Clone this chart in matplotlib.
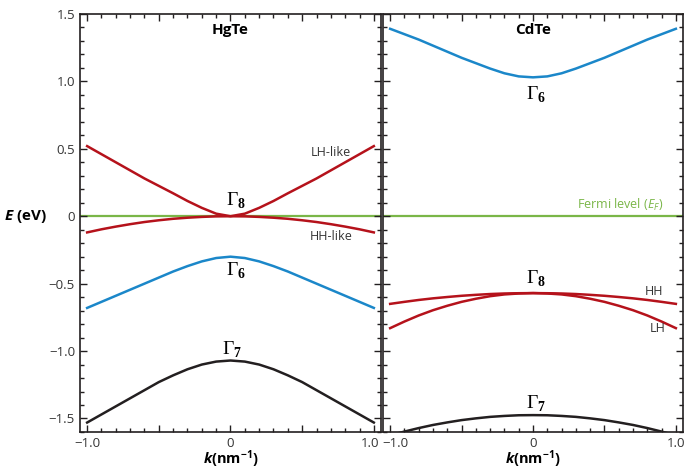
import matplotlib.pyplot as plt
import matplotlib.transforms as mtransforms
from matplotlib.ticker import MultipleLocator

# band energies (eV), k in nm^-1
k = [-1.0, -0.9, -0.8, -0.7, -0.6, -0.5, -0.4, -0.3, -0.2, -0.1, 0.0,
     0.1, 0.2, 0.3, 0.4, 0.5, 0.6, 0.7, 0.8, 0.9, 1.0]

hgte_lh = [0.52, 0.46, 0.40, 0.34, 0.28, 0.225, 0.17, 0.113, 0.062, 0.019, 0.0,
           0.019, 0.062, 0.113, 0.17, 0.225, 0.28, 0.34, 0.40, 0.46, 0.52]
hgte_hh = [-0.12, -0.097, -0.077, -0.059, -0.043, -0.030, -0.019, -0.011, -0.005, -0.001, 0.0,
           -0.001, -0.005, -0.011, -0.019, -0.030, -0.043, -0.059, -0.077, -0.097, -0.12]
hgte_g6 = [-0.68, -0.635, -0.59, -0.545, -0.50, -0.455, -0.41, -0.37, -0.335, -0.31, -0.30,
           -0.31, -0.335, -0.37, -0.41, -0.455, -0.50, -0.545, -0.59, -0.635, -0.68]
hgte_g7 = [-1.53, -1.47, -1.41, -1.35, -1.29, -1.23, -1.18, -1.135, -1.10, -1.078, -1.07,
           -1.078, -1.10, -1.135, -1.18, -1.23, -1.29, -1.35, -1.41, -1.47, -1.53]

cdte_g6 = [1.39, 1.35, 1.31, 1.265, 1.22, 1.175, 1.135, 1.095, 1.06, 1.037, 1.03,
           1.037, 1.06, 1.095, 1.135, 1.175, 1.22, 1.265, 1.31, 1.35, 1.39]
cdte_hh = [-0.65, -0.635, -0.621, -0.609, -0.599, -0.59, -0.583, -0.577, -0.573, -0.571, -0.57,
           -0.571, -0.573, -0.577, -0.583, -0.59, -0.599, -0.609, -0.621, -0.635, -0.65]
cdte_lh = [-0.83, -0.781, -0.736, -0.697, -0.664, -0.635, -0.612, -0.593, -0.58, -0.573, -0.57,
           -0.573, -0.58, -0.593, -0.612, -0.635, -0.664, -0.697, -0.736, -0.781, -0.83]
cdte_g7 = [-1.625, -1.597, -1.571, -1.548, -1.529, -1.512, -1.499, -1.488, -1.481, -1.476, -1.475,
           -1.476, -1.481, -1.488, -1.499, -1.512, -1.529, -1.548, -1.571, -1.597, -1.625]

red = '#b5121b'
blue = '#1b87c9'
black = '#231f20'
green = '#7ab648'

plt.rcParams['font.family'] = ['Open Sans', 'DejaVu Sans']
plt.rcParams['mathtext.fontset'] = 'custom'
plt.rcParams['mathtext.rm'] = 'Liberation Serif'
plt.rcParams['mathtext.bf'] = 'Liberation Serif:bold'
plt.rcParams['mathtext.it'] = 'Open Sans:italic'
plt.rcParams['mathtext.bfit'] = 'Open Sans:italic:bold'
plt.rcParams['mathtext.sf'] = 'Open Sans:bold'

fig = plt.figure(figsize=(6.87, 4.70), dpi=100)
ax1 = fig.add_axes([0.1164, 0.0809, 0.4382, 0.8894])
ax2 = fig.add_axes([0.5575, 0.0809, 0.4367, 0.8894])

for ax in (ax1, ax2):
    ax.set_xlim(-1.05, 1.05)
    ax.set_ylim(-1.6, 1.5)
    ax.xaxis.set_major_locator(MultipleLocator(0.5))
    ax.xaxis.set_minor_locator(MultipleLocator(0.1))
    ax.yaxis.set_major_locator(MultipleLocator(0.5))
    ax.yaxis.set_minor_locator(MultipleLocator(0.1))
    ax.tick_params(which='both', direction='in', top=True, right=True, width=1.0, color='#231f20')
    ax.tick_params(which='major', length=5, labelsize=9.5, labelcolor='#333333')
    ax.tick_params(which='minor', length=3)
    for s in ax.spines.values():
        s.set_linewidth(1.2)
        s.set_color('#231f20')
    ax.axhline(0, color=green, lw=1.6, zorder=1)
    ax.set_xticks([-1.0, -0.5, 0, 0.5, 1.0], ['\u22121.0', '', '0', '', '1.0'])
    ax.set_xlabel(r'$\mathbfit{k}\mathsf{(nm^{-1})}$', fontsize=10.5, labelpad=-1)

ax1.set_yticks([-1.5, -1.0, -0.5, 0, 0.5, 1.0, 1.5],
               ['\u22121.5', '\u22121.0', '\u22120.5', '0', '0.5', '1.0', '1.5'])
ax2.set_yticks([-1.5, -1.0, -0.5, 0, 0.5, 1.0, 1.5])
ax2.tick_params(labelleft=False)

# nudge the two tick labels that meet at the panel gap
lab_l = ax1.get_xticklabels()[-1]
lab_l.set_transform(lab_l.get_transform() + mtransforms.ScaledTranslation(-4 / 100, 0, fig.dpi_scale_trans))
lab_r = ax2.get_xticklabels()[0]
lab_r.set_transform(lab_r.get_transform() + mtransforms.ScaledTranslation(5 / 100, 0, fig.dpi_scale_trans))

lw = 1.8
ax1.plot(k, hgte_lh, color=red, lw=lw)
ax1.plot(k, hgte_hh, color=red, lw=lw)
ax1.plot(k, hgte_g6, color=blue, lw=lw)
ax1.plot(k, hgte_g7, color=black, lw=lw)

ax2.plot(k, cdte_g6, color=blue, lw=lw)
ax2.plot(k, cdte_hh, color=red, lw=lw)
ax2.plot(k, cdte_lh, color=red, lw=lw)
ax2.plot(k, cdte_g7, color=black, lw=lw)

ax1.text(0, 1.38, 'HgTe', ha='center', va='center', fontsize=11, fontweight='bold')
ax2.text(0, 1.38, 'CdTe', ha='center', va='center', fontsize=11, fontweight='bold')

gfs = 14
ax1.text(0.04, 0.12, r'$\Gamma_{\mathbf{8}}$', ha='center', va='center', fontsize=gfs)
ax1.text(0.04, -0.40, r'$\Gamma_{\mathbf{6}}$', ha='center', va='center', fontsize=gfs)
ax1.text(0.01, -0.985, r'$\Gamma_{\mathbf{7}}$', ha='center', va='center', fontsize=gfs)
ax2.text(0.02, 0.91, r'$\Gamma_{\mathbf{6}}$', ha='center', va='center', fontsize=gfs)
ax2.text(0.02, -0.46, r'$\Gamma_{\mathbf{8}}$', ha='center', va='center', fontsize=gfs)
ax2.text(0.02, -1.385, r'$\Gamma_{\mathbf{7}}$', ha='center', va='center', fontsize=gfs)

ax1.text(0.70, 0.47, 'LH-like', ha='center', va='center', fontsize=9, color='#333333')
ax1.text(0.70, -0.15, 'HH-like', ha='center', va='center', fontsize=9, color='#333333')
ax2.text(0.85, -0.555, 'HH', ha='center', va='center', fontsize=9, color='#333333')
ax2.text(0.87, -0.83, 'LH', ha='center', va='center', fontsize=9, color='#333333')
ax2.text(0.61, 0.08, 'Fermi level ($E_F$)', ha='center', va='center', fontsize=9, color=green)

fig.text(0.037, 0.5404, r'$\mathbfit{E}\ \mathsf{(eV)}$', ha='center', va='center', fontsize=11)

fig.savefig('out.png', dpi=100)
